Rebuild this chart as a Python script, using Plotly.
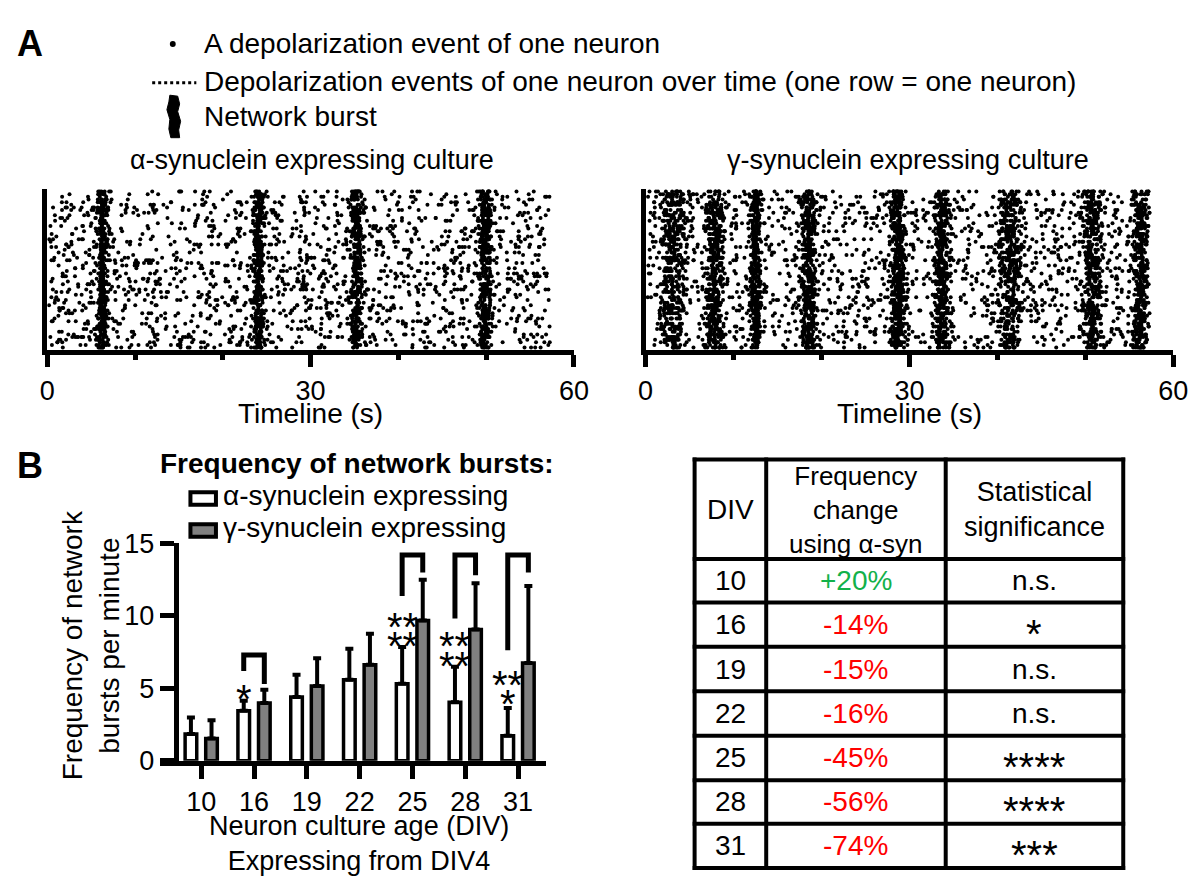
import numpy as np
import plotly.graph_objects as go

W, H = 1202, 886
FONT = "Liberation Sans, Arial, sans-serif"

# ---------------- Data ----------------
# Panel A: raster plots (network burst times)
n_neurons = 60
recording_end_s = 57.3
alpha_burst_times = [6.3, 24.1, 35.2, 49.9]
alpha_burst_sd = [0.28, 0.32, 0.32, 0.42]
gamma_burst_times = [3.0, 7.8, 12.5, 18.6, 28.7, 33.7, 41.4, 50.8, 56.3]
gamma_burst_sd = [0.75, 0.55, 0.30, 0.40, 0.40, 0.45, 0.70, 0.65, 0.45]
raster_ticks = [0, 30, 60]
raster_minor_ticks = [10, 20, 40, 50]

# Panel B: bar chart
div_labels = ["10", "16", "19", "22", "25", "28", "31"]
alpha_mean = [1.85, 3.45, 4.40, 5.60, 5.32, 4.05, 1.74]
alpha_sd = [1.15, 0.70, 1.54, 2.14, 2.53, 2.44, 1.91]
gamma_mean = [1.54, 4.00, 5.17, 6.64, 9.68, 9.06, 6.75]
gamma_sd = [1.26, 0.90, 1.91, 2.13, 2.82, 3.19, 5.32]
y_ticks = [0, 5, 10, 15]

# significance brackets: group index, bracket top, left leg end, right leg end
bracket_groups = [1, 4, 5, 6]
bracket_top = [7.3, 14.2, 14.2, 14.2]
bracket_left_end = [6.2, 11.37, 9.83, 7.63]
bracket_right_end = [5.3, 13.0, 12.8, 13.0]
# asterisk labels: group index, text, level
star_groups = [1, 4, 4, 5, 5, 6, 6]
star_texts = ["*", "**", "**", "**", "**", "**", "*"]
star_levels = [4.89, 9.85, 8.53, 8.53, 7.20, 5.88, 4.56]

# Table
table_div = ["10", "16", "19", "22", "25", "28", "31"]
table_change = ["+20%", "-14%", "-15%", "-16%", "-45%", "-56%", "-74%"]
table_sig = ["n.s.", "*", "n.s.", "n.s.", "****", "****", "***"]


def px(x):
    return x / W


def py(y):
    return 1 - y / H


def make_raster(burst_times, burst_sd, bg_rate, burst_rate, seed):
    # individual spikes cannot be read from the picture; the texture is
    # rendered around the burst times above
    rng = np.random.default_rng(seed)
    xs, ys = [], []
    for r in range(1, n_neurons + 1):
        k = rng.poisson(bg_rate)
        xs.extend(rng.uniform(0.2, recording_end_s, k))
        ys.extend([r] * k)
        for t, sd in zip(burst_times, burst_sd):
            k = rng.poisson(burst_rate)
            xs.extend(rng.normal(t, sd, k))
            ys.extend([r] * k)
    xs = np.clip(np.array(xs), 0.2, recording_end_s)
    return xs, np.array(ys)


fig = go.Figure()

ax_x, ax_y = make_raster(alpha_burst_times, alpha_burst_sd, 28, 5.5, 1)
gx, gy = make_raster(gamma_burst_times, gamma_burst_sd, 25, 6.5, 2)

dot = dict(color="black", size=4, line=dict(width=0))
fig.add_trace(go.Scatter(x=ax_x, y=ax_y, mode="markers", marker=dot,
                         xaxis="x", yaxis="y", hoverinfo="skip"))
fig.add_trace(go.Scatter(x=gx, y=gy, mode="markers", marker=dot,
                         xaxis="x2", yaxis="y2", hoverinfo="skip"))

groups = list(range(len(div_labels)))
bw = 0.22
off = 0.195
fig.add_trace(go.Bar(x=groups, y=alpha_mean, width=bw, offset=-off - bw / 2,
                     marker=dict(color="white", line=dict(color="black", width=3.5)),
                     error_y=dict(type="data", symmetric=False, array=alpha_sd,
                                  arrayminus=[0] * 7, thickness=4, width=4,
                                  color="black"),
                     xaxis="x3", yaxis="y3", hoverinfo="skip"))
fig.add_trace(go.Bar(x=groups, y=gamma_mean, width=bw, offset=off - bw / 2,
                     marker=dict(color="#808080", line=dict(color="black", width=3.5)),
                     error_y=dict(type="data", symmetric=False, array=gamma_sd,
                                  arrayminus=[0] * 7, thickness=4, width=4,
                                  color="black"),
                     xaxis="x3", yaxis="y3", hoverinfo="skip"))

shapes = []
annotations = []

for g, top, le, re in zip(bracket_groups, bracket_top, bracket_left_end, bracket_right_end):
    xl, xr = g - off, g + off
    shapes.append(dict(type="path", xref="x3", yref="y3",
                       path=f"M {xl} {le} L {xl} {top} L {xr} {top} L {xr} {re}",
                       line=dict(color="black", width=5)))

for g, t, lv in zip(star_groups, star_texts, star_levels):
    annotations.append(dict(x=g - off, y=lv, xref="x3", yref="y3", text=t,
                            showarrow=False, font=dict(size=40, family=FONT),
                            yshift=-9, xanchor="center", yanchor="middle",
                            borderpad=0))


def ptext(x, y, text, size=28, xanchor="center", color="black", bold=False, **kw):
    if bold:
        text = f"<b>{text}</b>"
    annotations.append(dict(x=px(x), y=py(y), xref="paper", yref="paper",
                            text=text, showarrow=False, borderpad=0,
                            font=dict(size=size, color=color, family=FONT),
                            xanchor=xanchor, yanchor="middle", **kw))


# Panel A header/legend
ptext(8, 30, "A", size=36, xanchor="left", bold=True)
shapes.append(dict(type="circle", xref="paper", yref="paper",
                   x0=px(165), x1=px(171), y0=py(33), y1=py(27),
                   fillcolor="black", line=dict(width=0)))
ptext(199, 30, "A depolarization event of one neuron", xanchor="left")
shapes.append(dict(type="line", xref="paper", yref="paper",
                   x0=px(147), x1=px(192), y0=py(70), y1=py(70),
                   line=dict(color="black", width=3, dash="dot")))
ptext(199, 69, "Depolarization events of one neuron over time (one row = one neuron)",
      xanchor="left")
glyph = [(165, 83), (173, 84), (175, 92), (173, 100), (176, 110), (174, 119),
         (175, 127), (166, 127), (164, 118), (165, 108), (162, 98), (164, 90)]
path = "M " + " L ".join(f"{px(a):.5f} {py(b):.5f}" for a, b in glyph) + " Z"
shapes.append(dict(type="path", xref="paper", yref="paper", path=path,
                   fillcolor="black", line=dict(color="black", width=1)))
ptext(199, 105, "Network burst", xanchor="left")

ptext(310, 150, "α-synuclein expressing culture", size=27)
ptext(918, 150, "γ-synuclein expressing culture", size=27)
ptext(308, 412, "Timeline (s)")
ptext(919, 412, "Timeline (s)")

# Panel B header/legend
ptext(8, 466, "B", size=36, xanchor="left", bold=True)
ptext(356, 464, "Frequency of network bursts:", bold=True)
shapes.append(dict(type="rect", xref="paper", yref="paper",
                   x0=px(186), x1=px(212), y0=py(507), y1=py(494),
                   fillcolor="white", line=dict(color="black", width=4)))
shapes.append(dict(type="rect", xref="paper", yref="paper",
                   x0=px(186), x1=px(212), y0=py(540), y1=py(527),
                   fillcolor="#808080", line=dict(color="black", width=4)))
ptext(218, 497, "α-synuclein expressing", xanchor="left")
ptext(218, 530, "γ-synuclein expressing", xanchor="left")
ptext(85, 652, "Frequency of network<br>bursts per minute", textangle=-90)
ptext(358, 858, "Neuron culture age (DIV)<br>Expressing from DIV4", size=27)

# Table
col_x = [700, 773, 956, 1137]
row_y = [460, 563, 608, 654, 700, 746, 792, 837, 883]
for x in col_x:
    shapes.append(dict(type="line", xref="paper", yref="paper",
                       x0=px(x), x1=px(x), y0=py(row_y[0] - 2), y1=py(row_y[-1] + 2),
                       line=dict(color="black", width=4)))
for y in row_y:
    shapes.append(dict(type="line", xref="paper", yref="paper",
                       x0=px(col_x[0] - 2), x1=px(col_x[-1] + 2), y0=py(y), y1=py(y),
                       line=dict(color="black", width=4)))
cx = [(col_x[i] + col_x[i + 1]) / 2 for i in range(3)]
ptext(cx[0], 512, "DIV")
ptext(cx[1], 512, "Frequency<br>change<br>using α-syn", size=26)
ptext(cx[2], 512, "Statistical<br>significance", size=27)
for i in range(len(table_div)):
    yc = (row_y[i + 1] + row_y[i + 2]) / 2
    col = "#12b14a" if table_change[i].startswith("+") else "#ff0000"
    ptext(cx[0], yc, table_div[i])
    ptext(cx[1], yc, table_change[i], color=col)
    if "*" in table_sig[i]:
        ptext(cx[2], yc, table_sig[i], size=40, yshift=-9)
    else:
        ptext(cx[2], yc, table_sig[i])

axis_common = dict(showline=True, linecolor="black", linewidth=5, showgrid=False,
                   zeroline=False, tickcolor="black", tickfont=dict(size=27))

fig.update_layout(
    width=W, height=H, margin=dict(l=0, r=0, t=0, b=0),
    paper_bgcolor="white", plot_bgcolor="white", showlegend=False,
    barmode="overlay",
    font=dict(family=FONT, size=27, color="black"),
    xaxis=dict(domain=[px(40), px(577)], anchor="y", range=[0, 60],
               tickmode="array", tickvals=raster_ticks, ticks="outside",
               ticklen=12, tickwidth=5,
               minor=dict(tickmode="array", tickvals=raster_minor_ticks,
                          ticks="outside", ticklen=5, tickwidth=5,
                          tickcolor="black"),
               **axis_common),
    yaxis=dict(domain=[py(347), py(180)], anchor="x", range=[0, 61],
               showticklabels=False, ticks="", **axis_common),
    xaxis2=dict(domain=[px(650), px(1188)], anchor="y2", range=[0, 60],
                tickmode="array", tickvals=raster_ticks, ticks="outside",
                ticklen=12, tickwidth=5,
                minor=dict(tickmode="array", tickvals=raster_minor_ticks,
                           ticks="outside", ticklen=5, tickwidth=5,
                           tickcolor="black"),
                **axis_common),
    yaxis2=dict(domain=[py(347), py(180)], anchor="x2", range=[0, 61],
                showticklabels=False, ticks="", **axis_common),
    xaxis3=dict(domain=[px(155), px(548)], anchor="y3", range=[-0.78, 6.52],
                tickmode="array", tickvals=groups, ticktext=div_labels,
                ticks="outside", ticklen=13, tickwidth=5, **axis_common),
    yaxis3=dict(domain=[py(772), py(547)], anchor="free", position=px(171),
                range=[0, 15], tickmode="array", tickvals=y_ticks,
                ticks="outside", ticklen=14, tickwidth=5, **axis_common),
    shapes=shapes,
    annotations=annotations,
)

fig.write_html("out.html",
               config={"displayModeBar": False},
               post_script="document.body.style.margin='0';"
                           "document.body.style.overflow='hidden';")
